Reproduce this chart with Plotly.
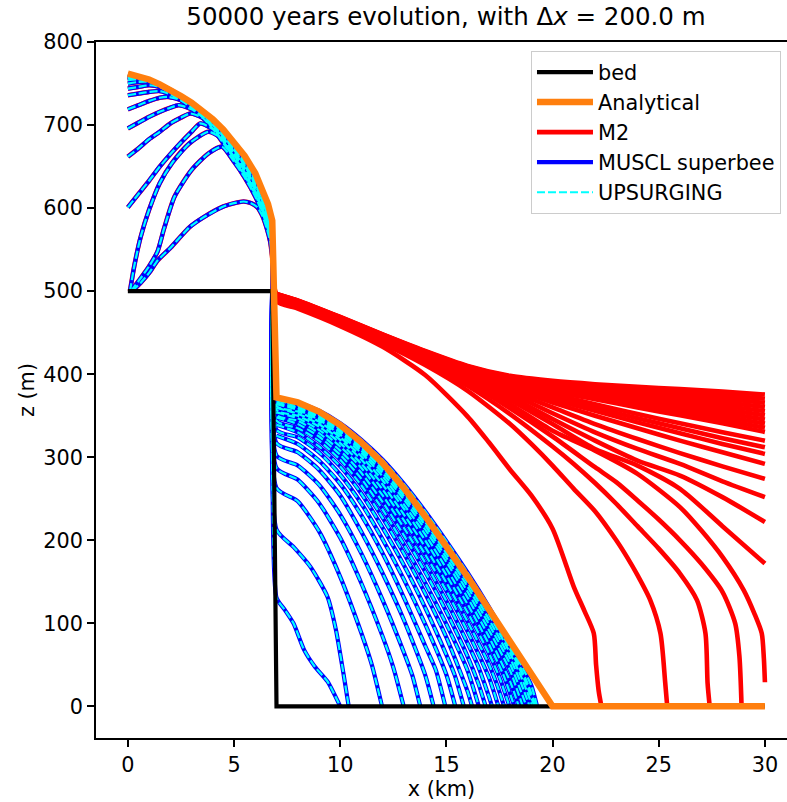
import plotly.graph_objects as go

# ---------------- bed and analytical solution ----------------
bed_x = [0, 6.8, 7.0, 30]
bed_z = [500, 500, 0, 0]

ana_x = [0, 0.5, 1, 1.5, 2, 2.5, 3, 3.5, 4, 4.5, 5, 5.5, 6, 6.4, 6.6, 6.8,
         7.0, 8, 9, 10, 11, 12, 13, 14, 15, 16, 17, 18, 19, 19.5, 20, 30]
ana_z = [762, 759, 755, 749, 742.5, 735, 727, 717, 707, 694.5, 680, 663, 642, 620, 605, 585,
         372, 366, 355, 339, 318, 293, 263, 229, 193, 156, 117, 78, 39, 19, 0, 0]

# ---------------- upper plateau profiles (same for all schemes) ----------------
U1_x = [0.2, 0.6, 1.0, 1.4, 2.0, 2.9, 3.5, 4.5, 5.0, 5.45, 5.8, 6.1, 6.35, 6.55, 6.7, 6.8]
U1_z = [500, 510, 522, 537, 552, 577, 588, 602, 606, 608, 606, 601, 590, 575, 560, 540]
U2_x = [0.15, 0.5, 1.0, 1.4, 1.7, 2.2, 3.0, 3.8, 4.43, 5.0, 5.5, 6.0, 6.4, 6.6, 6.8]
U2_z = [500, 512, 530, 548, 575, 614, 646, 666, 674, 656, 637, 614, 590, 574, 552]
U3_x = [0.1, 0.3, 0.6, 1.0, 1.5, 2.1, 2.9, 3.8, 4.4, 5.0, 5.5, 6.0, 6.4, 6.6, 6.8]
U3_z = [500, 530, 565, 598, 630, 655, 678, 692, 684, 659, 639, 616, 592, 576, 554]
U4_x = [0, 0.5, 1.0, 1.5, 2.0, 2.5, 3.0, 3.41, 4.0, 4.5, 5.0, 5.5, 6.0, 6.4, 6.6, 6.8]
U4_z = [601, 617, 633, 650, 665, 679, 692, 702, 695, 678, 660, 641, 618, 594, 578, 556]
U5_x = [0, 0.5, 1.0, 1.5, 2.0, 2.5, 2.94, 3.5, 4.0, 4.5, 5.0, 5.5, 6.0, 6.4, 6.6, 6.8]
U5_z = [662, 672, 683, 692, 702, 709, 714, 709, 696, 680, 662, 643, 620, 596, 580, 558]
U6_x = [0, 0.5, 1.0, 1.5, 2.0, 2.4, 3.0, 3.5, 4.0, 4.5, 5.0, 5.5, 6.0, 6.4, 6.6, 6.8]
U6_z = [696, 703, 710, 716, 721, 724, 719, 710, 697, 681.5, 664, 645, 622, 598, 582, 560]
U7_x = [0, 0.5, 1.0, 1.5, 1.9, 2.5, 3.0, 3.5, 4.0, 4.5, 5.0, 5.5, 6.0, 6.4, 6.6, 6.8]
U7_z = [719, 724, 729, 733, 734, 730, 721, 711, 698, 683, 666, 647, 624, 600, 584, 562]
UG_x = [0, 0.5, 1.0, 1.5, 2.0, 2.5, 3.0, 3.5, 4.0, 4.5, 5.0, 5.5, 6.0, 6.4, 6.6, 6.8]
U8_z = [736, 738, 740, 741, 737, 730, 722, 712, 699, 684.5, 668, 649, 626, 602, 586, 564]
U9_z = [744, 746, 748, 746, 739, 732, 724, 714, 700, 686, 670, 651, 628, 604, 588, 566]
U10_z = [750, 752, 752, 747, 740, 733, 725, 715, 701, 687.5, 671.5, 653, 630, 606, 590, 568]
U11_z = [754, 755, 753, 747.5, 741, 733.5, 725.5, 715.5, 702, 689, 673, 654.5, 632, 608, 592, 570]
U12_z = [757, 756.5, 753.5, 748, 741.5, 734, 726, 716, 703, 690.5, 674.5, 656, 633.5, 610, 594, 572]
U13_z = [759, 757.5, 754, 748.5, 742, 734.5, 726.5, 716.5, 704, 691.5, 676, 657.5, 635, 612, 596, 574]
U14_z = [760.5, 758, 754.5, 749, 742.5, 735, 727, 717, 705, 692.5, 677, 659, 637, 614, 598, 576]

# ---------------- MUSCL / UPSURGING profiles below the cliff ----------------
L1_x = [7.0, 7.4, 7.8, 8.3, 8.8, 9.4, 10.0]
L1_z = [131, 116, 100, 68, 48, 30, 0]
L2_x = [7.0, 7.8, 8.6, 9.4, 9.8, 10.15, 10.4]
L2_z = [213, 192, 168, 132, 92, 40, 0]
L3_x = [7.0, 8, 9, 10, 11, 11.5, 11.97]
L3_z = [263, 247, 211, 156, 88, 49, 0]
L4_x = [7.0, 8, 9, 10, 11, 12, 12.5, 12.99]
L4_z = [287, 273, 245, 203, 148, 84, 47, 0]
L5_x = [7.0, 8, 9, 10, 11, 12, 13, 13.4, 13.77]
L5_z = [302, 290, 267, 231, 184, 128, 65, 37, 0]
L6_x = [7.0, 8, 9, 10, 11, 12, 13, 14, 14.4]
L6_z = [317, 306, 285, 254, 210, 160, 104, 38, 0]
L7_x = [7.0, 8, 9, 10, 11, 12, 13, 14, 14.5, 14.95]
L7_z = [326, 316, 296, 268, 230, 184, 131, 73, 44, 0]
L8_x = [7.0, 8, 9, 10, 11, 12, 13, 14, 15, 15.42]
L8_z = [333, 324, 306, 279, 244, 201, 153, 99, 38, 0]
L9_x = [7.0, 8, 9, 10, 11, 12, 13, 14, 15, 15.4, 15.82]
L9_z = [339, 330, 313, 289, 256, 215, 170, 119, 62, 37, 0]
L10_x = [7.0, 8, 9, 10, 11, 12, 13, 14, 15, 16, 16.21]
L10_z = [344, 335, 320, 297, 266, 227, 184, 136, 83, 18, 0]
L11_x = [7.0, 8, 9, 10, 11, 12, 13, 14, 15, 16, 16.53]
L11_z = [348, 340, 325, 303, 274, 237, 195, 149, 99, 43, 0]
L12_x = [7.0, 8, 9, 10, 11, 12, 13, 14, 15, 16, 16.5, 16.85]
L12_z = [351, 344, 329, 308, 281, 246, 206, 162, 114, 60, 28, 0]
L13_x = [7.0, 8, 9, 10, 11, 12, 13, 14, 15, 16, 16.5, 17, 17.15]
L13_z = [354, 347, 333, 313, 287, 254, 215, 173, 127, 76, 48, 12, 0]
L14_x = [7.0, 8, 9, 10, 11, 12, 13, 14, 15, 16, 17, 17.45]
L14_z = [357, 350, 337, 317, 292, 261, 224, 183, 139, 90, 35, 0]
L15_x = [7.0, 8, 9, 10, 11, 12, 13, 14, 15, 16, 17, 17.4, 17.72]
L15_z = [359.5, 352.5, 340, 321, 297, 267, 231, 192, 149, 102, 51, 25, 0]
L16_x = [7.0, 8, 9, 10, 11, 12, 13, 14, 15, 16, 17, 17.5, 17.97]
L16_z = [361.8, 355, 343, 324, 301, 272, 238, 200, 158, 113, 64, 35, 0]
L17_x = [7.0, 8, 9, 10, 11, 12, 13, 14, 15, 16, 17, 17.7, 18.2]
L17_z = [363.8, 357, 345, 327, 305, 277, 243, 207, 166, 123, 75, 37, 0]
L18_x = [7.0, 8, 9, 10, 11, 12, 13, 14, 15, 16, 17, 18, 18.41]
L18_z = [365.5, 359, 347, 330, 308, 281, 249, 213, 174, 131, 84, 30, 0]
L19_x = [7.0, 8, 9, 10, 11, 12, 13, 14, 15, 16, 17, 18, 18.3, 18.6]
L19_z = [367, 360, 349, 332, 311, 285, 253, 218, 179, 138, 92, 43, 22, 0]
L20_x = [7.0, 8, 9, 10, 11, 12, 13, 14, 15, 16, 17, 18, 18.5, 18.77]
L20_z = [368.3, 362, 351, 334, 313, 288, 257, 222, 184, 144, 99, 51, 19, 0]
L21_x = [7.0, 8, 9, 10, 11, 12, 13, 14, 15, 16, 17, 18, 18.5, 18.92]
L21_z = [369.4, 363, 352, 336, 316, 291, 261, 226, 189, 149, 105, 58, 29, 0]
L22_x = [7.0, 8, 9, 10, 11, 12, 13, 14, 15, 16, 17, 18, 18.6, 19.05]
L22_z = [370.2, 364, 353, 337, 317, 293, 263, 229, 193, 153, 111, 64, 31, 0]
L23_x = [7.0, 8, 9, 10, 11, 12, 13, 14, 15, 16, 17, 18, 18.7, 19.15]
L23_z = [370.8, 364.5, 354, 338, 319, 295, 265, 232, 196, 156, 115, 69, 31, 0]
L24_x = [7.0, 8, 9, 10, 11, 12, 13, 14, 15, 16, 17, 18, 18.8, 19.22]
L24_z = [371.2, 365, 354, 339, 319, 296, 266, 233, 197, 159, 117, 72, 29, 0]
L25_x = [7.0, 8, 9, 10, 11, 12, 13, 14, 15, 16, 17, 18, 19, 19.27]
L25_z = [371.5, 366, 356, 341, 321, 297, 268, 235, 199, 161, 120, 75, 25, 0]

# ---------------- M2 profiles below the cliff ----------------
RG_x = [7, 8, 10, 12, 14, 16, 18, 20, 22, 24, 26, 28, 30]
M2_T = [497, 489, 469, 448, 428, 410, 398, 392, 388, 385, 382, 379, 375.5]
M2_b1 = [496.8, 488.7, 468.7, 447.7, 427.6, 409.5, 397.2, 390.6, 386, 382.2, 378.5, 374.8, 370.5]
M2_b2 = [496.6, 488.4, 468.5, 447.4, 427.2, 409, 396.4, 389.2, 384, 379.4, 375, 370.6, 365.5]
M2_b3 = [496.3, 488.1, 468.2, 447.1, 426.8, 408.5, 395.6, 387.8, 382, 376.7, 371.5, 366.3, 360.5]
M2_b4 = [496.1, 487.8, 467.9, 446.8, 426.4, 408, 394.8, 386.4, 380, 373.9, 368, 362.1, 355.5]
M2_b5 = [495.9, 487.6, 467.7, 446.5, 426, 407.5, 394, 385, 378, 371.1, 364.5, 357.9, 350.5]
M2_b6 = [495.7, 487.3, 467.4, 446.2, 425.6, 407, 393.2, 383.6, 376, 368.3, 361, 353.7, 345.5]
M2_b7 = [495.4, 487, 467.1, 445.9, 425.2, 406.5, 392.4, 382.2, 374, 365.6, 357.5, 349.4, 340.5]
M2_b8 = [495.2, 486.7, 466.9, 445.6, 424.8, 406, 391.6, 380.8, 372, 362.8, 354, 345.2, 335.5]
M2_B = [495, 486.4, 466.6, 445.3, 424.4, 405.5, 390.8, 379.4, 370, 360, 350.5, 341, 330.5]
M2_R320 = [494, 485, 466, 445, 424, 405, 389, 376, 364, 352, 341, 330, 320]
M2_R312 = [493, 485, 465, 445, 424, 404, 387, 373, 360, 347, 335, 323, 312]
M2_R304 = [493, 485, 465, 444, 424, 403, 385, 370, 356, 342, 329, 316, 304]
M2_R292 = [493, 484, 465, 444, 423, 402, 383, 366, 350, 335, 320, 306, 292]
M2_R274 = [492, 484, 465, 444, 423, 401, 380, 360, 340, 322, 305, 289, 274]
M2_R252 = [492, 484, 464, 443, 422, 400, 377, 353, 330, 310, 292, 271, 252]
M2_R222 = [492, 484, 464, 443, 421, 398, 373, 346, 320, 296, 278, 252, 222]
M2_R172 = [492, 483, 463, 442, 420, 396, 369, 340, 310, 290, 262, 217, 172]
F30_x = [7, 8, 10, 12, 14, 16, 18, 20, 22, 24, 26, 27, 28, 29, 29.5, 29.85, 29.95, 30]
F30_z = [491, 483, 463, 441, 418, 393, 364, 332, 308, 280, 240, 212, 180, 140, 112, 88, 58, 29]
F289_x = [7, 8, 10, 12, 14, 16, 18, 20, 22, 23, 24, 25, 26, 27, 28, 28.6, 28.8, 28.9]
F289_z = [491, 482, 462, 440, 416, 390, 359, 325, 288, 270, 248, 225, 200, 172, 138, 100, 60, 0]
F274_x = [7, 8, 10, 12, 14, 16, 18, 20, 21, 22, 23, 24, 25, 26, 26.8, 27.2, 27.3, 27.4]
F274_z = [490, 482, 461, 439, 414, 386, 352, 313, 292, 269, 244, 217, 190, 160, 128, 88, 28, 0]
F254_x = [7, 8, 10, 12, 14, 16, 18, 19, 20, 21, 22, 23, 23.5, 24, 24.6, 25.08, 25.3, 25.4]
F254_z = [490, 481, 460, 437, 411, 380, 340, 316, 290, 262, 235, 200, 180, 158, 128, 88, 30, 0]
F223_x = [7, 8, 10, 12, 14, 16, 17, 18, 19, 20, 21, 21.5, 21.94, 22.05, 22.17, 22.3]
F223_z = [488, 479, 458, 433, 399, 349, 318, 285, 254, 214, 144, 115, 88, 50, 19, 0]

x_ticks = [0, 5, 10, 15, 20, 25, 30]
z_ticks = [0, 100, 200, 300, 400, 500, 600, 700, 800]

# ---------------- assemble profiles ----------------
upper = [(U1_x, U1_z), (U2_x, U2_z), (U3_x, U3_z), (U4_x, U4_z), (U5_x, U5_z),
         (U6_x, U6_z), (U7_x, U7_z), (UG_x, U8_z), (UG_x, U9_z), (UG_x, U10_z),
         (UG_x, U11_z), (UG_x, U12_z), (UG_x, U13_z), (UG_x, U14_z)]
lower = [(L1_x, L1_z), (L2_x, L2_z), (L3_x, L3_z), (L4_x, L4_z), (L5_x, L5_z),
         (L6_x, L6_z), (L7_x, L7_z), (L8_x, L8_z), (L9_x, L9_z), (L10_x, L10_z),
         (L11_x, L11_z), (L12_x, L12_z), (L13_x, L13_z), (L14_x, L14_z), (L15_x, L15_z),
         (L16_x, L16_z), (L17_x, L17_z), (L18_x, L18_z), (L19_x, L19_z), (L20_x, L20_z),
         (L21_x, L21_z), (L22_x, L22_z), (L23_x, L23_z), (L24_x, L24_z), (L25_x, L25_z)]
muscl_pairs = [0, 1, 2, 3, 4, 5, 7, 9, 11, 13, 15, 18, 21, 24]

red_lower = [(F223_x, F223_z), (F254_x, F254_z), (F274_x, F274_z), (F289_x, F289_z),
             (F30_x, F30_z), (RG_x, M2_R172), (RG_x, M2_R222), (RG_x, M2_R252),
             (RG_x, M2_R274), (RG_x, M2_R292), (RG_x, M2_R312), (RG_x, M2_R320),
             (RG_x, M2_B), (RG_x, M2_T)]
red_extra = [(RG_x, M2_R304), (RG_x, M2_b8), (RG_x, M2_b7), (RG_x, M2_b6), (RG_x, M2_b5),
             (RG_x, M2_b4), (RG_x, M2_b3), (RG_x, M2_b2), (RG_x, M2_b1)]


def join(curves):
    X, Z = [], []
    for xs, zs in curves:
        X += list(xs) + [None]
        Z += list(zs) + [None]
    return X, Z


muscl_curves = []
used = set()
for (ux, uz), j in zip(upper, muscl_pairs):
    lx, lz = lower[j]
    muscl_curves.append((list(ux) + list(lx), list(uz) + list(lz)))
    used.add(j)
for j, c in enumerate(lower):
    if j not in used:
        muscl_curves.append(c)

m2_curves = []
for (ux, uz), (rx, rz) in zip(upper, red_lower):
    m2_curves.append((list(ux) + list(rx), list(uz) + list(rz)))
m2_curves += red_extra

m2X, m2Z = join(m2_curves)
muX, muZ = join(muscl_curves)

fig = go.Figure()
fig.add_trace(go.Scatter(x=m2X, y=m2Z, mode="lines", name="M2", legendrank=3,
                         line=dict(color="#ff0000", width=4.6, shape="spline", smoothing=0.7),
                         connectgaps=False))
fig.add_trace(go.Scatter(x=muX, y=muZ, mode="lines", name="MUSCL superbee", legendrank=4,
                         line=dict(color="#0000ff", width=4.2, shape="spline", smoothing=0.6),
                         connectgaps=False))
fig.add_trace(go.Scatter(x=muX, y=muZ, mode="lines", name="UPSURGING", legendrank=5,
                         line=dict(color="#00ffff", width=2.2, dash="8px,3px",
                                   shape="spline", smoothing=0.6),
                         connectgaps=False))
fig.add_trace(go.Scatter(x=bed_x, y=bed_z, mode="lines", name="bed", legendrank=1,
                         line=dict(color="#000000", width=4.2)))
fig.add_trace(go.Scatter(x=ana_x, y=ana_z, mode="lines", name="Analytical", legendrank=2,
                         line=dict(color="#ff7f0e", width=6.5)))

axis_common = dict(showgrid=False, zeroline=False, showline=True, linecolor="black",
                   linewidth=1.7, ticks="outside", ticklen=7, tickwidth=1.7,
                   tickcolor="black", tickfont=dict(size=20.8, color="black"))

fig.update_layout(
    width=787, height=802,
    margin=dict(l=96, r=0, t=42, b=64),
    paper_bgcolor="white", plot_bgcolor="white",
    font=dict(family="DejaVu Sans", size=20.8, color="black"),
    title=dict(text="50000 years evolution, with Δ<i>x</i> = 200.0 m",
               x=0.5065, xref="paper", xanchor="center",
               y=0.98, yref="container", yanchor="middle",
               font=dict(size=24.5, color="black")),
    legend=dict(x=0.9913, y=0.987, xanchor="right", yanchor="top",
                bordercolor="#cccccc", borderwidth=1, bgcolor="rgba(255,255,255,0.85)",
                font=dict(size=20.8, color="black"), tracegroupgap=0, itemwidth=56),
    xaxis=dict(range=[-1.5, 31.04], tickvals=x_ticks, mirror=True,
               title=dict(text="x (km)", standoff=4, font=dict(size=20.8)), **axis_common),
    yaxis=dict(range=[-38.1, 800.1], tickvals=z_ticks, mirror=False,
               title=dict(text="z (m)", standoff=3, font=dict(size=20.8)), **axis_common),
)

fig.write_html("out.html", config={"displayModeBar": False},
               post_script="document.body.style.margin='0';document.body.style.overflow='hidden';")
